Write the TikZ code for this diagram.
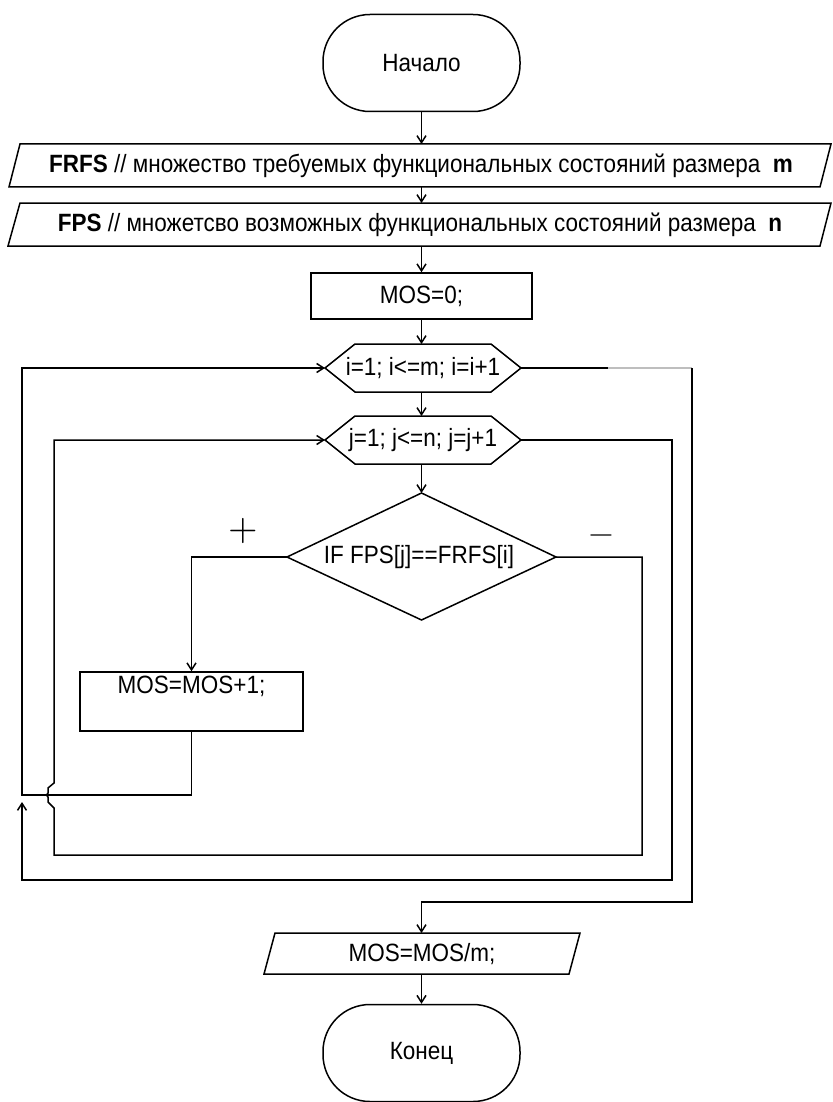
\documentclass[tikz,border=0pt]{standalone}
\usepackage{fontspec}
\setmainfont{Liberation Sans}[FakeStretch=0.9]
\newfontfamily\lmfont{lmroman10-regular.otf}
\usetikzlibrary{arrows.meta}
\definecolor{lightline}{RGB}{190,190,190}
\begin{document}
\begin{tikzpicture}[x=1pt,y=-1pt,line width=1.5pt,
  txt/.style={font=\fontsize{25}{28}\selectfont, inner sep=0pt},
  flow/.style={-{Straight Barb[length=7pt,width=9pt]}},
  outline/.style={draw=black, line join=miter},
  term/.style={draw, rounded corners=47pt, minimum width=197pt, minimum height=97pt, txt},
  proc/.style={draw, minimum width=221pt, minimum height=46pt, txt},
  sign/.style={font=\lmfont\fontsize{38}{38}\selectfont, inner sep=0pt}]
\useasboundingbox (0,0) rectangle (832,1102);

% --- start terminator
\node[term] (start) at (421.5,63) {Начало};

% --- input: FRFS
\coordinate (frfsN) at (421.5,144);
\coordinate (frfsS) at (421.5,187);
\draw[outline] (9,187) -- (20,144) -- (831,144) -- (820,187) -- cycle;
\node[txt] (frfs) at (421,166) {\textbf{FRFS} // множество требуемых функциональных состояний размера\ \ \textbf{m}};

% --- input: FPS
\coordinate (fpsN) at (421.5,203);
\coordinate (fpsS) at (421.5,246);
\draw[outline] (8,246) -- (20,203) -- (831,203) -- (820,246) -- cycle;
\node[txt] (fps) at (420,225) {\textbf{FPS} // множетсво возможных функциональных состояний размера\ \ \textbf{n}};

% --- initialisation
\node[proc] (init) at (421.5,296) {MOS=0;};

% --- outer loop header
\coordinate (hiL) at (325,368);
\coordinate (hiR) at (521,368);
\coordinate (hiN) at (421.5,344);
\coordinate (hiS) at (421.5,392);
\draw[outline] (hiL) -- (355,344) -- (491,344) -- (hiR) -- (491,392) -- (355,392) -- cycle;
\node[txt] (loopi) at (423,368) {i=1; i<=m; i=i+1};

% --- inner loop header
\coordinate (hjL) at (325,440);
\coordinate (hjR) at (521,440);
\coordinate (hjN) at (421.5,416);
\coordinate (hjS) at (421.5,464);
\draw[outline] (hjL) -- (355,416) -- (491,416) -- (hjR) -- (491,464) -- (355,464) -- cycle;
\node[txt] (loopj) at (423,440) {j=1; j<=n; j=j+1};

% --- condition
\coordinate (dN) at (421.5,493);
\coordinate (dL) at (287,557);
\coordinate (dR) at (556,557);
\coordinate (dS) at (421.5,620);
\draw[outline] (dN) -- (dR) -- (dS) -- (dL) -- cycle;
\node[txt] (cond) at (419,557) {IF FPS[j]==FRFS[i]};
\node[sign] (plus) at (243,531) {+};
\node[sign, font=\lmfont\fontsize{32}{32}\selectfont] (minus) at (601,539) {−};

% --- counter increment
\node[draw, txt, minimum width=223pt, minimum height=59pt,
      text height=21.6pt, text depth=37.4pt] (inc) at (191.5,701.5) {MOS=MOS+1;};

% --- result
\coordinate (outN) at (421.5,933);
\coordinate (outS) at (421.5,974);
\draw[outline] (264,974) -- (275,933) -- (580,933) -- (569,974) -- cycle;
\node[txt] (result) at (422,954) {MOS=MOS/m;};

% --- end terminator
\node[term] (stop) at (421.5,1053) {Конец};

% --- straight flow
\draw[flow] (start.south) -- (frfsN);
\draw[flow] (frfsS) -- (fpsN);
\draw[flow] (fpsS) -- (init.north);
\draw[flow] (init.south) -- (hiN);
\draw[flow] (hiS) -- (hjN);
\draw[flow] (hjS) -- (dN);
\draw[flow] (outS) -- (stop.north);

% --- "+" branch
\draw[flow] (dL) -| (inc.north);

% --- back to the outer header
\coordinate (incTurn) at (191.5,795);
\coordinate (leftTurn) at (22,795);
\draw[flow] (inc.south) -- (incTurn) -- (leftTurn) |- (hiL);

% --- "-" branch back to the inner header, jumping the crossing line
\coordinate (noTurn) at (642,855);
\coordinate (jumpLow) at (54,808);
\coordinate (jumpHigh) at (54,783);
\draw[flow, line join=miter] (dR) -| (noTurn) -| (jumpLow) -- ++(-6,-6) -- ++(0,-5)
      -- ++(-1.5,-2) -- ++(1.5,-2) -- ++(0,-5) -- (jumpHigh) |- (hjL);

% --- inner loop exit
\coordinate (jExit) at (672,880);
\coordinate (outerTip) at (22,802);
\draw[flow] (hjR) -| (jExit) -| (outerTip);

% --- outer loop exit
\coordinate (grayStart) at (608,368);
\coordinate (grayEnd) at (692,368);
\coordinate (iExit) at (692,902);
\draw (hiR) -- (grayStart);
\draw[lightline] (grayStart) -- (grayEnd);
\draw[flow] (grayEnd) -- (iExit) -| (outN);
\end{tikzpicture}
\end{document}
